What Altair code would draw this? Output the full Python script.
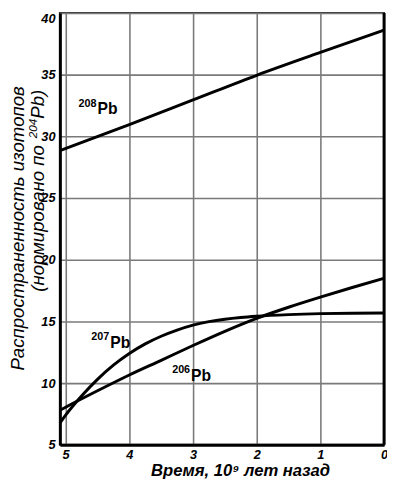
import altair as alt
import pandas as pd

# ---- data ----
t208 = [5.09, 4.0, 3.0, 2.0, 1.0, 0.0]
pb208 = [28.85, 30.95, 32.95, 34.95, 36.8, 38.6]

t207 = [5.09, 5.0, 4.75, 4.5, 4.25, 4.0, 3.75, 3.5, 3.25, 3.0, 2.75, 2.5, 2.25, 2.0, 1.5, 1.0, 0.5, 0.0]
pb207 = [6.76, 7.4, 8.95, 10.3, 11.45, 12.4, 13.18, 13.8, 14.3, 14.7, 14.98, 15.18, 15.32, 15.42, 15.55, 15.63, 15.67, 15.69]

t206 = [5.09, 5.0, 4.5, 4.0, 3.5, 3.0, 2.5, 2.0, 1.5, 1.0, 0.5, 0.0]
pb206 = [7.8, 8.05, 9.38, 10.66, 11.85, 13.05, 14.2, 15.25, 16.15, 16.97, 17.75, 18.5]

x_ticks = [0, 1, 2, 3, 4, 5]
y_ticks = [5, 10, 15, 20, 25, 30, 35, 40]

lab_x = [4.50, 4.30, 3.03]
lab_y = [31.78, 12.82, 10.19]
lab_sup = ["208", "207", "206"]
lab_main = ["Pb", "Pb", "Pb"]

ytitle_1 = "Распространенность изотопов"
ytitle_2a = "(нормировано по"
ytitle_2b = "204"
ytitle_2c = "Pb)"

rows = []
for name, ts, vs in (("208", t208, pb208), ("207", t207, pb207), ("206", t206, pb206)):
    for t, v in zip(ts, vs):
        rows.append({"iso": name, "t": t, "v": v})
df = pd.DataFrame(rows)
labels = pd.DataFrame({"t": lab_x, "v": lab_y, "sup": lab_sup, "main": lab_main})
one = pd.DataFrame({"k": [0]})

FONT = "Liberation Sans"

xs = alt.Scale(domain=[0, 5.09], reverse=True, nice=False, zero=False)
ys = alt.Scale(domain=[5, 40], nice=False, zero=False)

x_enc = alt.X(
    "t:Q", scale=xs,
    axis=alt.Axis(
        values=x_ticks, format="d", title="Время, 10⁹ лет назад",
        titleFont=FONT, titleFontSize=17, titleFontWeight="bold", titleFontStyle="italic",
        titleColor="black", titleX=184, titleAlign="center", titlePadding=1,
        labelFont=FONT, labelFontSize=13, labelFontWeight="bold", labelFontStyle="italic",
        labelColor="black", labelPadding=4, labelFlush=False,
    ),
)
y_enc = alt.Y(
    "v:Q", scale=ys,
    axis=alt.Axis(
        values=y_ticks, format="d", title=None,
        labelFont=FONT, labelFontSize=13, labelFontWeight="bold", labelFontStyle="italic",
        labelColor="black", labelPadding=5,
        labelBaseline=alt.ExprRef("datum.value == 40 ? 'top' : 'middle'"),
    ),
)

lines = alt.Chart(df).mark_line(
    color="black", strokeWidth=3, interpolate="monotone"
).encode(x=x_enc, y=y_enc, detail="iso:N")

right_border = alt.Chart(one).mark_rule(color="black", strokeWidth=3).encode(
    x=alt.datum(0, scale=xs)
)

sup_text = alt.Chart(labels).mark_text(
    font=FONT, fontSize=11, fontWeight="bold", align="right",
    baseline="alphabetic", dx=-1, dy=-8, color="black"
).encode(x=alt.X("t:Q", scale=xs), y=alt.Y("v:Q", scale=ys), text="sup:N")

main_text = alt.Chart(labels).mark_text(
    font=FONT, fontSize=16, fontWeight="bold", align="left",
    baseline="alphabetic", color="black"
).encode(x=alt.X("t:Q", scale=xs), y=alt.Y("v:Q", scale=ys), text="main:N")

# rotated y-axis title, built from pieces so that 204 can be a real superscript
title_style = dict(font=FONT, fontStyle="italic", color="black", angle=270, baseline="alphabetic")
yt1 = alt.Chart(one).mark_text(fontSize=19, align="center", **title_style).encode(
    x=alt.value(-37), y=alt.value(220), text=alt.value(ytitle_1)
)
yt2a = alt.Chart(one).mark_text(fontSize=19, align="right", **title_style).encode(
    x=alt.value(-16), y=alt.value(135), text=alt.value(ytitle_2a)
)
yt2b = alt.Chart(one).mark_text(fontSize=12, align="left", **title_style).encode(
    x=alt.value(-23), y=alt.value(128), text=alt.value(ytitle_2b)
)
yt2c = alt.Chart(one).mark_text(fontSize=19, align="left", **title_style).encode(
    x=alt.value(-16), y=alt.value(108), text=alt.value(ytitle_2c)
)

chart = alt.layer(lines, right_border, sup_text, main_text, yt1, yt2a, yt2b, yt2c).properties(
    width=331, height=441,
    autosize=alt.AutoSizeParams(type="none"),
    padding={"left": 53, "top": 0, "right": 3, "bottom": 37},
).configure_view(
    stroke="#333", strokeWidth=2
).configure_axis(
    grid=True, gridColor="#7a7a7a", gridWidth=1.6,
    domainColor="black", domainWidth=3, ticks=False,
)

chart.save("out.html", embed_options={"renderer": "svg", "actions": False})
